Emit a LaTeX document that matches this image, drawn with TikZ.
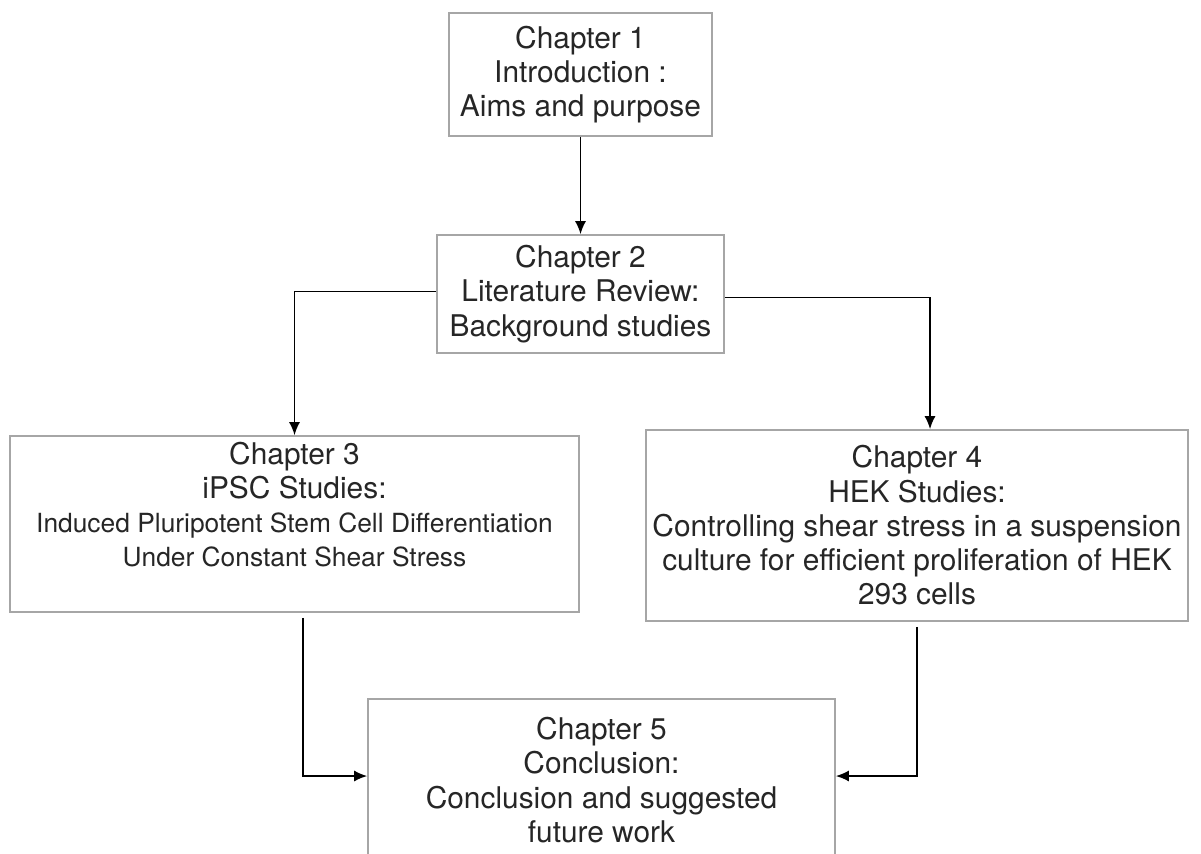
\documentclass[tikz,border=0pt]{standalone}
\usepackage{fontspec}
\setmainfont{TeX Gyre Heros}
\usetikzlibrary{arrows.meta,calc}
\newcommand{\chapfont}{\fontsize{17}{19.5}\selectfont}
\newcommand{\subchapfont}{\fontsize{15}{16.5}\selectfont}

\begin{document}
\begin{tikzpicture}[
  chapbox/.style={draw=gray!70, line width=0.9pt, align=center, inner sep=1pt, text=black!85, font=\chapfont},
  flow/.style={-{Latex[length=2.6mm,width=2.2mm]}, line width=1pt}]
  \useasboundingbox (0,0) rectangle (24.02,-17.06);
  % chapter boxes
  \node[chapbox, minimum width=5.26cm, minimum height=2.46cm] (ch1) at (11.61,-1.49)
    {Chapter 1\\Introduction :\\Aims and purpose};
  \node[chapbox, minimum width=5.74cm, minimum height=2.36cm] (ch2) at (11.61,-5.88)
    {Chapter 2\\Literature Review:\\Background studies};
  \node[chapbox, minimum width=11.38cm, minimum height=3.52cm] (ch3) at (5.89,-10.48)
    {Chapter 3\\iPSC Studies:\\{\subchapfont Induced Pluripotent Stem Cell Differentiation}\\{\subchapfont Under Constant Shear Stress}\\[0.1cm]};
  \node[chapbox, minimum width=10.84cm, minimum height=3.82cm] (ch4) at (18.34,-10.51)
    {Chapter 4\\HEK Studies:\\Controlling shear stress in a suspension\\culture for efficient proliferation of HEK\\293 cells};
  \node[chapbox, minimum width=9.34cm, minimum height=3.24cm] (ch5) at (12.03,-15.6)
    {Chapter 5\\Conclusion:\\Conclusion and suggested\\future work};
  % connectors
  \draw[flow] (ch1.south) -- (ch2.north);
  \draw[flow] ([yshift=0.05cm]ch2.west) -| (ch3.north);
  \draw[flow] ([yshift=-0.07cm]ch2.east) -| ([xshift=0.26cm]ch4.north);
  \draw[flow] ([xshift=0.17cm,yshift=-0.1cm]ch3.south) |- ([yshift=0.08cm]ch5.west);
  \draw[flow] ([yshift=-0.1cm]ch4.south) |- ([yshift=0.08cm]ch5.east);
\end{tikzpicture}
\end{document}
